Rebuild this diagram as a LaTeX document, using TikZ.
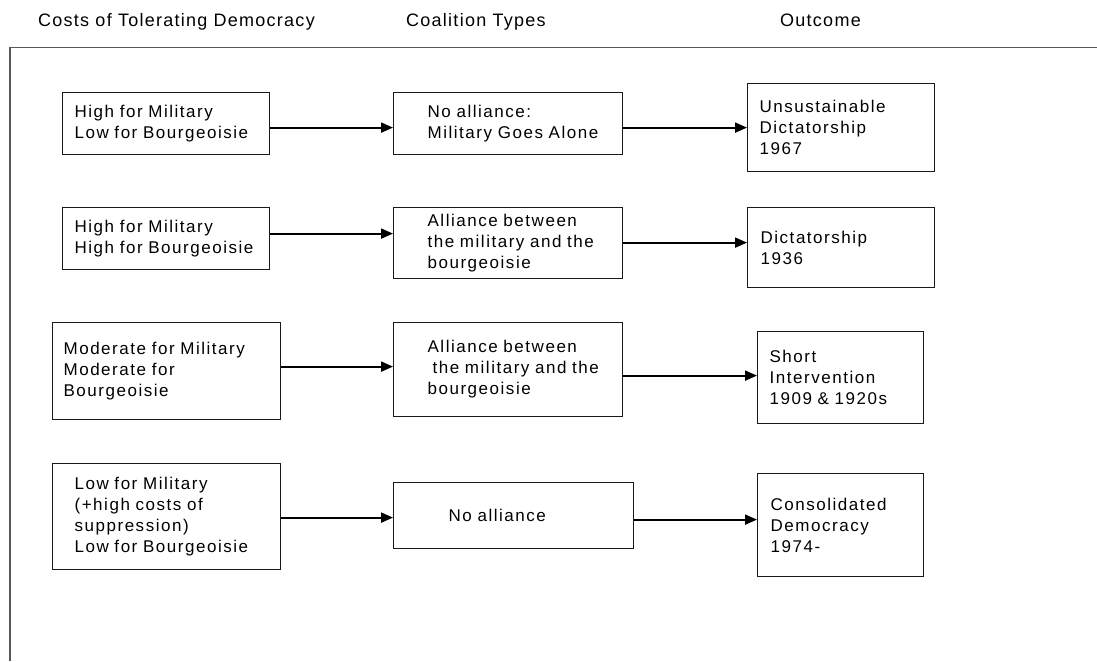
\documentclass[tikz,border=0pt]{standalone}
\usepackage{fontspec}
\setmainfont{Liberation Sans}[LetterSpace=9]
\newfontfamily\headfont{Liberation Sans}[LetterSpace=7]
\usepackage{tikz}
\usetikzlibrary{arrows.meta}
\tikzset{panel/.style={draw=black!90,line width=1.2pt,anchor=north west,align=left,inner xsep=0pt,inner ysep=0pt,text width=#1,font=\fontsize{17}{21}\selectfont},
		inset/.style={execute at begin node={\leftskip=#1}},
		head/.style={anchor=base west,inner sep=0pt,font=\headfont\fontsize{18}{21}\selectfont},
		post/.style={->,>={Triangle[length=12pt,width=10pt]},line width=2pt},
		frame/.style={draw=black!65,line width=1.4pt}}

\begin{document}
\begin{tikzpicture}[x=1pt,y=-1pt]
		\useasboundingbox (0,0) rectangle (1097,661);
		\draw[frame] (10,661) |- (1097,47.5);
		\node[head] (cost-head) at (38,27) {Costs of Tolerating Democracy};
		\node[head] (coal-head) at (406,27) {Coalition Types};
		\node[head] (out-head) at (780,27) {Outcome};

		\node[panel=207pt,inset=12pt,minimum height=62pt] (high-low) at (62,92) {High for Military\\Low for Bourgeoisie};
		\node[panel=207pt,inset=12pt,minimum height=62pt] (high-high) at (62,207) {High for Military\\High for Bourgeoisie};
		\node[panel=228pt,inset=11pt,minimum height=97pt] (mod-mod) at (52,322) {Moderate for Military\\Moderate for\\Bourgeoisie};
		\node[panel=228pt,inset=22pt,minimum height=106pt] (low-low) at (52,463) {Low for Military\\(+high costs of\\suppression)\\Low for Bourgeoisie};

		\node[panel=229pt,inset=34pt,minimum height=62pt] (mil-alone) at (393,92) {No alliance:\\Military Goes Alone};
		\node[panel=229pt,inset=34pt,minimum height=71pt] (mil-bourg) at (393,207) {Alliance between\\the military and the\\bourgeoisie};
		\node[panel=229pt,inset=34pt,minimum height=94pt] (mil-bourg-2) at (393,322) {Alliance between\\\hspace*{5pt}the military and the\\bourgeoisie};
		\node[panel=240pt,inset=55pt,minimum height=66pt] (no-alliance) at (393,482) {No alliance};

		\node[panel=187pt,inset=12pt,minimum height=88pt] (unsust-dict) at (747,83) {Unsustainable\\Dictatorship\\1967};
		\node[panel=187pt,inset=13pt,minimum height=80pt] (dict) at (747,207) {Dictatorship\\1936};
		\node[panel=166pt,inset=12pt,minimum height=92pt] (short-int) at (757,331) {Short\\Intervention\\1909 \& 1920s};
		\node[panel=166pt,inset=13pt,minimum height=103pt] (consol-dem) at (757,473) {Consolidated\\Democracy\\1974-};

		\draw[post] ([yshift=-4pt]high-low.east) -- ([yshift=-4pt]mil-alone.west);
		\draw[post] ([yshift=-4pt]mil-alone.east) -- (unsust-dict.west);
		\draw[post] ([yshift=5pt]high-high.east) -- ([yshift=9.5pt]mil-bourg.west);
		\draw[post] ([yshift=0.5pt]mil-bourg.east) -- ([yshift=5pt]dict.west);
		\draw[post] ([yshift=4.5pt]mod-mod.east) -- ([yshift=3pt]mil-bourg-2.west);
		\draw[post] ([yshift=-6pt]mil-bourg-2.east) -- ([yshift=2pt]short-int.west);
		\draw[post] ([yshift=-1pt]low-low.east) -- ([yshift=-2pt]no-alliance.west);
		\draw[post] ([yshift=-4pt]no-alliance.east) -- ([yshift=5.5pt]consol-dem.west);
	\end{tikzpicture}
\end{document}
